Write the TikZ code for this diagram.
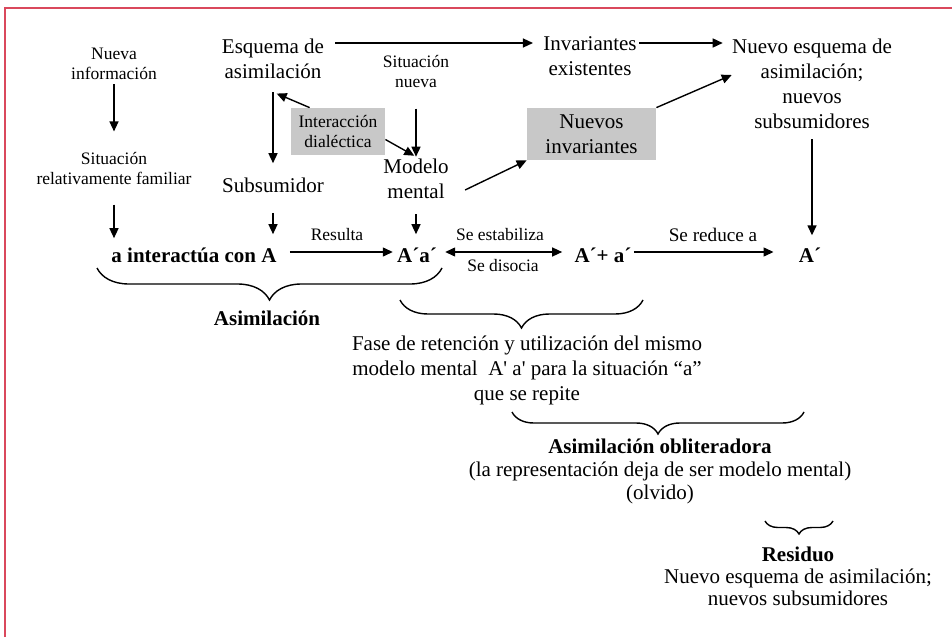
\documentclass[tikz,border=0pt]{standalone}
\usepackage{fontspec}
\setmainfont{Liberation Serif}
\usetikzlibrary{arrows.meta,decorations.pathreplacing,calc}
\definecolor{framered}{RGB}{218,72,92}
\definecolor{boxgray}{RGB}{200,200,200}
\newcommand\bigtxt{\fontsize{10.5}{12.5}\selectfont}
\newcommand\smtxt{\fontsize{8.75}{10}\selectfont}
\newcommand\midtxt{\fontsize{9.6}{11.5}\selectfont}
\begin{document}
\begin{tikzpicture}[x=0.5pt,y=-0.5pt,
  txt/.style={inner sep=1pt,align=center},
  big/.style={txt,font=\bigtxt},
  small/.style={txt,font=\smtxt},
  bld/.style={txt,font=\bigtxt\bfseries},
  gbox/.style={fill=boxgray,inner sep=0pt,align=center},
  arr/.style={line width=0.7pt,-{Triangle[length=5pt,width=4.5pt]}},
  darr/.style={line width=0.7pt,{Triangle[length=5pt,width=4.5pt]}-{Triangle[length=5pt,width=4.5pt]}},
  brc/.style={line width=0.7pt,decorate,decoration={brace,amplitude=#1}},
]
\useasboundingbox (0,0) rectangle (952,637);
\draw[framered,line width=1pt] (5,637) -- (5,8) -- (952,8);

% nodes
\node[small] (nueva) at (114,64) {Nueva\\información};
\node[small] (sitfam) at (114,168) {Situación\\relativamente familiar};
\node[bld] (aint) at (194,255) {a interactúa con A};
\node[big] (esq) at (273,59) {Esquema de\\asimilación};
\node[big] (sub) at (273,185) {Subsumidor};
\node[gbox,minimum width=47pt,minimum height=23.5pt,font=\smtxt] (intd) at (338,131.5) {Interacción\\dialéctica};
\node[small] (sitn) at (416,72) {Situación\\nueva};
\node[big] (modelo) at (416,179) {Modelo\\mental};
\node[bld] (aa) at (417,255) {A´a´};
\node[big] (inv) at (590,56) {Invariantes\\existentes};
\node[gbox,minimum width=64.5pt,minimum height=26pt,font=\bigtxt] (ninv) at (591.5,134) {Nuevos\\invariantes};
\node[big] (nesq) at (812,84) {Nuevo esquema de\\asimilación;\\nuevos\\subsumidores};
\node[bld] (apa) at (603,255) {A´+ a´};
\node[bld] (ap) at (810,255) {A´};

% labels
\node[small] (lres) at (337,235) {Resulta};
\node[small] (lest) at (500,235) {Se estabiliza};
\node[small] (ldis) at (503,266) {Se disocia};
\node[txt,font=\midtxt] (lred) at (713,235) {Se reduce a};

\node[bld] (asim) at (267,318) {Asimilación};
\node[big] (fase) at (527,370) {Fase de retención y utilización del mismo\\modelo mental~ A\textquotesingle{} a\textquotesingle{} para la situación “a”\\que se repite};
\node[txt,font=\fontsize{10.5}{11.5}\selectfont] (obl) at (660,471) {\textbf{Asimilación obliteradora}\\(la representación deja de ser modelo mental)\\(olvido)};
\node[txt,font=\fontsize{10.5}{11}\selectfont] (resid) at (798,576) {\textbf{Residuo}\\Nuevo esquema de asimilación;\\nuevos subsumidores};

% braces
\draw[brc=16pt] (442,268) -- (97,268);
\draw[brc=14pt] (643,300) -- (400,300);
\draw[brc=11pt] (804,412) -- (512,412);
\draw[brc=6.5pt] (833,521) -- (765,521);

% connectors
\coordinate (esqfoot) at (273,92);
\draw[arr,shorten <=1pt,shorten >=9pt] (nueva) -- (sitfam);
\draw[arr,shorten <=9pt,shorten >=3.5pt] (sitfam.south) -- (sitfam.south |- aint.north);
\draw[arr,shorten >=6pt] (esqfoot) -- (sub.north);
\draw[arr,shorten >=2pt] ([xshift=9.5pt]intd.north west) -- (esqfoot);
\draw[arr,shorten >=1pt] ([yshift=-4pt]intd.east) -- (modelo.north);
\draw[arr,shorten <=9pt] (sitn.south) -- (modelo.north);
\draw[arr,shorten <=9pt,shorten >=5.5pt] (sub.south) -- (sub.south |- aint.north);
\draw[arr,shorten <=6.5pt,shorten >=5.5pt] (modelo.south) -- (modelo.south |- aa.north);
\draw[arr,shorten <=5.5pt,shorten >=1pt] ([yshift=1.5pt]aint.east) -- ([yshift=1.5pt]aa.west);
\draw[darr,shorten <=3pt,shorten >=5pt] ([yshift=1.5pt]aa.east) -- ([yshift=1.5pt]apa.west);
\draw[arr,shorten >=11.5pt] ([yshift=1.5pt]apa.east) -- ([yshift=1.5pt]ap.west);
\draw[arr,shorten <=4pt,shorten >=5pt] (nesq.south) -- (nesq.south |- ap.north);
\draw[arr,shorten <=4.5pt,shorten >=4pt] ([yshift=8pt]esq.east) -- ([yshift=8pt]esq.east -| inv.west);
\draw[arr,shorten >=3.5pt] ([yshift=6.5pt]inv.east) -- ([yshift=6.5pt]inv.east -| nesq.west);
\draw[arr] ([shift={(7pt,-5.5pt)}]modelo.east) -- (ninv.south west);
\draw[arr] (ninv.north east) -- ([shift={(1pt,4.5pt)}]nesq.west);
\end{tikzpicture}
\end{document}
